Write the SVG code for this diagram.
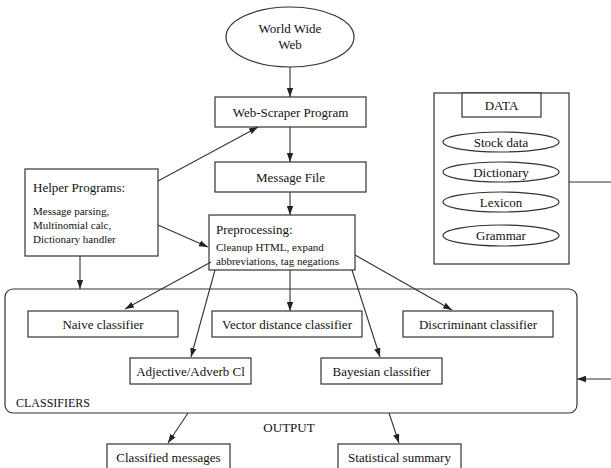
<svg xmlns="http://www.w3.org/2000/svg" width="611" height="468" viewBox="0 0 611 468">
<style>
.n{fill:#fff;stroke:#333;stroke-width:1.2}
.t{font-family:"Liberation Serif","Times New Roman",serif;font-size:13px;fill:#111;text-anchor:middle}
.s{font-family:"Liberation Serif","Times New Roman",serif;font-size:11px;fill:#111}
.e{stroke:#333;stroke-width:1.1;fill:none}
.a{marker-end:url(#ah)}
</style>
<defs>
<marker id="ah" viewBox="0 0 10 10" refX="10" refY="5" markerWidth="9" markerHeight="9" markerUnits="userSpaceOnUse" orient="auto">
<path d="M0,1.5 L10,5 L0,8.5 z" fill="#222"/>
</marker>
</defs>
<rect width="611" height="468" fill="#fff"/>
<g id="classifiers">
<rect class="n" x="5" y="289" width="572" height="124" rx="8"/>
<text class="s" x="16" y="407" style="font-size:12px">CLASSIFIERS</text>
</g>
<g id="www"><ellipse class="n" cx="290" cy="37" rx="64" ry="30"/><text class="t" x="290" y="33">World Wide</text><text class="t" x="290" y="49">Web</text></g>
<g id="scraper"><rect class="n" x="215" y="97" width="151" height="30"/><text class="t" x="290.5" y="117">Web-Scraper Program</text></g>
<g id="msgfile"><rect class="n" x="215" y="162" width="151" height="30"/><text class="t" x="290.5" y="182">Message File</text></g>
<g id="helper"><rect class="n" x="25" y="169" width="133" height="87"/><text class="s" x="33" y="192" style="font-size:13px">Helper Programs:</text><text class="s" x="33" y="215">Message parsing,</text><text class="s" x="33" y="229">Multinomial calc,</text><text class="s" x="33" y="243">Dictionary handler</text></g>
<g id="preproc"><rect class="n" x="209" y="215" width="146" height="55"/><text class="s" x="216" y="234" style="font-size:13px">Preprocessing:</text><text class="s" x="216" y="251">Cleanup HTML, expand</text><text class="s" x="216" y="265">abbreviations, tag negations</text></g>
<g id="data"><rect class="n" x="434" y="93" width="135" height="171"/><rect class="n" x="462" y="93" width="79" height="24"/><text class="t" x="501.5" y="110">DATA</text>
<ellipse class="n" cx="501" cy="142" rx="58" ry="10"/><text class="t" x="501" y="146.5">Stock data</text>
<ellipse class="n" cx="501" cy="172" rx="58" ry="10"/><text class="t" x="501" y="176.5">Dictionary</text>
<ellipse class="n" cx="501" cy="202" rx="58" ry="10"/><text class="t" x="501" y="206.5">Lexicon</text>
<ellipse class="n" cx="501" cy="235.5" rx="58" ry="10.5"/><text class="t" x="501" y="240">Grammar</text></g>
<g id="naive"><rect class="n" x="28" y="311" width="150" height="26"/><text class="t" x="103" y="328.5">Naive classifier</text></g>
<g id="vector"><rect class="n" x="212" y="311" width="150" height="26"/><text class="t" x="287" y="328.5">Vector distance classifier</text></g>
<g id="discriminant"><rect class="n" x="403" y="311" width="150" height="26"/><text class="t" x="478" y="328.5">Discriminant classifier</text></g>
<g id="adjective"><rect class="n" x="130" y="358" width="121" height="26"/><text class="t" x="190.5" y="375.5">Adjective/Adverb Cl</text></g>
<g id="bayesian"><rect class="n" x="321" y="358" width="121" height="26"/><text class="t" x="381.5" y="375.5">Bayesian classifier</text></g>
<g id="output"><text class="t" x="289" y="432">OUTPUT</text></g>
<g id="classified"><rect class="n" x="107" y="444" width="123" height="30"/><text class="t" x="168.5" y="462">Classified messages</text></g>
<g id="summary"><rect class="n" x="338" y="444" width="123" height="30"/><text class="t" x="399.5" y="462">Statistical summary</text></g>
<g id="connectors">
<line class="e a" x1="290" y1="67" x2="290" y2="97"/>
<line class="e a" x1="290" y1="127" x2="290" y2="162"/>
<line class="e a" x1="290" y1="192" x2="290" y2="215"/>
<line class="e a" x1="158" y1="181" x2="258" y2="127"/>
<line class="e a" x1="158" y1="225" x2="208" y2="247"/>
<line class="e a" x1="80" y1="256" x2="80" y2="289"/>
<line class="e a" x1="211" y1="262" x2="125" y2="309"/>
<line class="e a" x1="215" y1="270" x2="191" y2="357"/>
<line class="e a" x1="290" y1="270" x2="290" y2="311"/>
<line class="e a" x1="352" y1="270" x2="380" y2="357"/>
<line class="e a" x1="355" y1="255" x2="452" y2="310"/>
<line class="e" x1="569" y1="182" x2="611" y2="182"/>
<line class="e a" x1="611" y1="379" x2="577" y2="379"/>
<line class="e a" x1="188" y1="413" x2="168" y2="443"/>
<line class="e a" x1="389" y1="413" x2="399" y2="443"/>
</g>
</svg>
